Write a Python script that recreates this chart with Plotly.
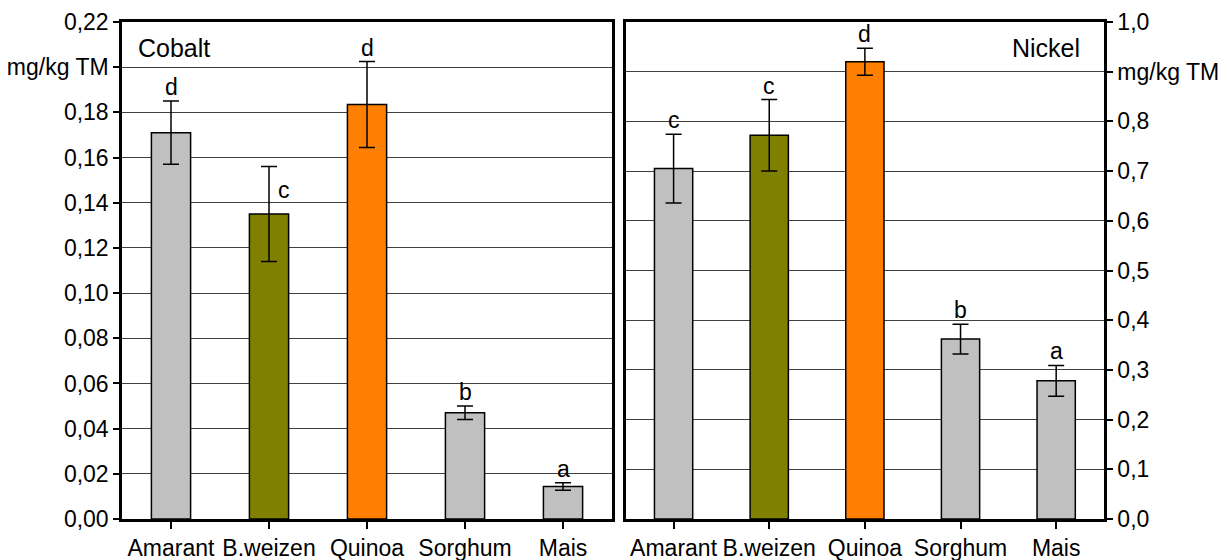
import plotly.graph_objects as go

crops = ["Amarant", "B.weizen", "Quinoa", "Sorghum", "Mais"]
bar_colors = ["#C0C0C0", "#808000", "#FF8000", "#C0C0C0", "#C0C0C0"]

cobalt = [0.171, 0.135, 0.1835, 0.047, 0.0144]
cobalt_err = [0.014, 0.021, 0.019, 0.003, 0.0017]
cobalt_sig = ["d", "c", "d", "b", "a"]

nickel = [0.705, 0.772, 0.920, 0.362, 0.278]
nickel_err = [0.069, 0.072, 0.027, 0.030, 0.031]
nickel_sig = ["c", "c", "d", "b", "a"]

cobalt_ticks = [0.00, 0.02, 0.04, 0.06, 0.08, 0.10, 0.12, 0.14, 0.16, 0.18, 0.20, 0.22]
cobalt_ticktext = ["0,00", "0,02", "0,04", "0,06", "0,08", "0,10", "0,12", "0,14",
                   "0,16", "0,18", "mg/kg TM", "0,22"]
nickel_ticks = [0.0, 0.1, 0.2, 0.3, 0.4, 0.5, 0.6, 0.7, 0.8, 0.9, 1.0]
nickel_ticktext = ["0,0", "0,1", "0,2", "0,3", "0,4", "0,5", "0,6", "0,7", "0,8",
                   "mg/kg TM", "1,0"]

FONT = "Arial, Liberation Sans, sans-serif"
FS = 23

fig = go.Figure()

fig.add_trace(go.Bar(
    x=crops, y=cobalt, xaxis="x", yaxis="y",
    marker=dict(color=bar_colors, line=dict(color="black", width=1.5)),
    error_y=dict(type="data", array=cobalt_err, color="black", thickness=1.5, width=8),
    showlegend=False,
))
fig.add_trace(go.Bar(
    x=crops, y=nickel, xaxis="x2", yaxis="y2",
    marker=dict(color=bar_colors, line=dict(color="black", width=1.5)),
    error_y=dict(type="data", array=nickel_err, color="black", thickness=1.5, width=8),
    showlegend=False,
))

# significance letters above the error bars
for i, (c, v, e, s) in enumerate(zip(crops, cobalt, cobalt_err, cobalt_sig)):
    if i == 1:
        # this one sits beside the error bar in the original
        fig.add_annotation(x=c, y=v + e / 2, xref="x", yref="y", text=s, showarrow=False,
                           yanchor="middle", xshift=15, font=dict(size=FS, color="black"))
        continue
    fig.add_annotation(x=c, y=v + e, xref="x", yref="y", text=s, showarrow=False,
                       yanchor="middle", yshift=14, font=dict(size=FS, color="black"))
for c, v, e, s in zip(crops, nickel, nickel_err, nickel_sig):
    fig.add_annotation(x=c, y=v + e, xref="x2", yref="y2", text=s, showarrow=False,
                       yanchor="middle", yshift=14, font=dict(size=FS, color="black"))

fig.add_annotation(x=0.029, y=0.948, xref="x domain", yref="y domain", text="Cobalt",
                   showarrow=False, xanchor="left", yanchor="middle",
                   font=dict(size=25, color="black"))
fig.add_annotation(x=0.954, y=0.948, xref="x2 domain", yref="y2 domain", text="Nickel",
                   showarrow=False, xanchor="right", yanchor="middle",
                   font=dict(size=25, color="black"))

axis_common = dict(showline=True, linecolor="black", linewidth=2.5, mirror=True,
                   automargin=False,
                   tickfont=dict(size=FS, color="black", family=FONT))

# page body adds an 8px offset, so the figure is 8px smaller on each axis
fig.update_layout(
    width=1219, height=552,
    paper_bgcolor="white", plot_bgcolor="white",
    font=dict(family=FONT, color="black", size=FS),
    margin=dict(l=114, r=123, t=14, b=41),
    bargap=0.6,
    xaxis=dict(domain=[0, 0.499], anchor="y", range=[-0.5, 4.5], tickangle=0,
               ticks="outside", ticklen=7, tickwidth=2, tickcolor="black",
               showgrid=False, **axis_common),
    yaxis=dict(domain=[0, 1], anchor="x", range=[0, 0.22],
               tickvals=cobalt_ticks, ticktext=cobalt_ticktext,
               ticks="outside", ticklen=6, tickwidth=1.5, tickcolor="black",
               showgrid=True, gridcolor="#404040", gridwidth=1, zeroline=False,
               **axis_common),
    xaxis2=dict(domain=[0.513, 1], anchor="y2", range=[-0.5, 4.5], tickangle=0,
                ticks="outside", ticklen=7, tickwidth=2, tickcolor="black",
                showgrid=False, **axis_common),
    yaxis2=dict(domain=[0, 1], anchor="x2", side="right", range=[0, 1.0],
                tickvals=nickel_ticks, ticktext=nickel_ticktext,
                ticks="outside", ticklen=6, tickwidth=1.5, tickcolor="black",
                showgrid=True, gridcolor="#404040", gridwidth=1, zeroline=False,
                **axis_common),
)

fig.write_html("out.html")
